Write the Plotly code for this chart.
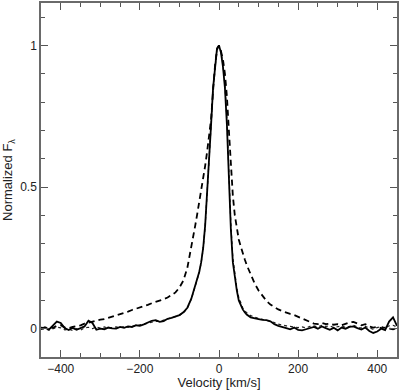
import plotly.graph_objects as go

velocity = [-450, -440, -430, -420, -410, -400, -390, -380, -370, -360,
            -350, -340, -330, -320, -310, -300, -290, -280, -270, -260,
            -250, -240, -230, -220, -210, -200, -190, -180, -170, -160,
            -150, -140, -130, -120, -110, -100, -90, -80, -70,
            -65, -60, -55, -50, -45, -40, -35, -30, -25, -20, -15, -10, -5,
            0, 5, 10, 15, 20, 25, 30, 35, 40, 45, 50, 55, 60, 65,
            70, 80, 90, 100, 110, 120, 130, 140, 150, 160,
            170, 180, 190, 200, 210, 220, 230, 240, 250, 260,
            270, 280, 290, 300, 310, 320, 330, 340, 350, 360,
            370, 380, 390, 400, 410, 420, 430, 440, 450]

solid = [0.000, 0.005, -0.003, 0.010, 0.025, 0.020, 0.002, -0.005, 0.003, -0.004,
         0.002, 0.008, 0.028, 0.020, -0.004, 0.000, -0.002, 0.004, 0.001, 0.000,
         0.006, 0.003, 0.008, 0.006, 0.012, 0.010, 0.015, 0.022, 0.028, 0.030,
         0.024, 0.027, 0.035, 0.038, 0.042, 0.048, 0.058, 0.074, 0.106,
         0.130, 0.150, 0.174, 0.200, 0.235, 0.285, 0.365, 0.470, 0.590, 0.720, 0.850, 0.935, 0.990,
         1.000, 0.975, 0.925, 0.850, 0.720, 0.520, 0.350, 0.235, 0.180, 0.135, 0.100, 0.080, 0.068, 0.058,
         0.050, 0.040, 0.036, 0.034, 0.031, 0.030, 0.026, 0.016, 0.010, 0.005,
         0.002, -0.002, 0.004, -0.004, -0.006, -0.002, 0.003, 0.006, 0.000, 0.008,
         0.002, -0.004, 0.003, -0.006, 0.004, 0.000, 0.006, 0.008, 0.002, -0.003,
         0.004, -0.008, -0.015, -0.010, 0.000, -0.005, 0.025, 0.040, 0.010]

dotted = [-0.003, 0.000, -0.005, 0.000, 0.005, 0.003, -0.004, -0.002, -0.006, 0.000,
          -0.005, 0.003, 0.005, 0.000, 0.006, 0.002, 0.006, 0.002, 0.004, 0.006,
          0.003, 0.008, 0.005, 0.010, 0.009, 0.014, 0.016, 0.020, 0.024, 0.026,
          0.026, 0.030, 0.034, 0.037, 0.042, 0.047, 0.056, 0.072, 0.104,
          0.128, 0.148, 0.172, 0.198, 0.233, 0.283, 0.362, 0.468, 0.588, 0.718, 0.848, 0.935, 0.990,
          1.000, 0.980, 0.930, 0.860, 0.740, 0.550, 0.370, 0.250, 0.190, 0.145, 0.110, 0.088, 0.074, 0.064,
          0.056, 0.046, 0.040, 0.036, 0.033, 0.030, 0.027, 0.022, 0.016, 0.012,
          0.010, 0.008, 0.006, 0.004, 0.006, 0.003, 0.008, 0.010, 0.006, 0.012,
          0.008, 0.010, 0.004, 0.006, 0.010, 0.004, 0.008, 0.012, 0.006, 0.002,
          0.008, 0.004, -0.002, 0.004, 0.008, 0.002, 0.010, 0.012, 0.006]

dashed = [0.004, 0.002, 0.006, 0.003, 0.010, 0.012, 0.004, 0.002, 0.006, 0.008,
          0.012, 0.018, 0.022, 0.026, 0.028, 0.032, 0.034, 0.038, 0.042, 0.048,
          0.052, 0.056, 0.060, 0.066, 0.070, 0.076, 0.080, 0.084, 0.090, 0.094,
          0.098, 0.104, 0.110, 0.118, 0.128, 0.145, 0.170, 0.215, 0.285,
          0.325, 0.365, 0.405, 0.445, 0.485, 0.530, 0.575, 0.625, 0.680, 0.740, 0.840, 0.930, 0.985,
          1.000, 0.980, 0.950, 0.900, 0.820, 0.700, 0.580, 0.470, 0.400, 0.350, 0.315, 0.290, 0.265, 0.245,
          0.225, 0.190, 0.160, 0.135, 0.115, 0.098, 0.085, 0.075, 0.068, 0.062,
          0.056, 0.052, 0.048, 0.042, 0.036, 0.030, 0.024, 0.018, 0.016, 0.020,
          0.016, 0.018, 0.014, 0.016, 0.012, 0.018, 0.022, 0.024, 0.018, 0.012,
          0.016, 0.008, 0.004, 0.006, 0.002, 0.004, 0.000, -0.002, 0.002]

x_tickvals = [-400, -200, 0, 200, 400]
x_ticktext = ["\u2212400", "\u2212200", "0", "200", "400"]
y_tickvals = [0, 0.5, 1]
y_ticktext = ["0", "0.5", "1"]

fig = go.Figure()
fig.add_trace(go.Scatter(x=velocity, y=dotted, mode="lines",
                         line=dict(color="#222", width=1.2, dash="dot"), showlegend=False))
fig.add_trace(go.Scatter(x=velocity, y=dashed, mode="lines",
                         line=dict(color="black", width=1.8, dash="6px,4px"), showlegend=False))
fig.add_trace(go.Scatter(x=velocity, y=solid, mode="lines",
                         line=dict(color="black", width=1.8), showlegend=False))

axis_common = dict(showline=True, linecolor="#6a6a6a", linewidth=1.5, mirror="allticks",
                   ticks="inside", ticklen=7, tickcolor="#555", tickwidth=1,
                   showgrid=False, zeroline=False,
                   tickfont=dict(family="Liberation Sans, Arial", size=12, color="#222"))

fig.update_xaxes(range=[-450, 450], tickvals=x_tickvals, ticktext=x_ticktext,
                 minor=dict(ticks="inside", ticklen=4, dtick=50, tick0=0, tickcolor="#555"),
                 title=dict(text="Velocity [km/s]", standoff=4,
                            font=dict(family="Liberation Sans, Arial", size=13, color="#222")),
                 **axis_common)
fig.update_yaxes(range=[-0.1, 1.15], tickvals=y_tickvals, ticktext=y_ticktext,
                 minor=dict(ticks="inside", ticklen=4, dtick=0.1, tick0=0, tickcolor="#555"),
                 title=dict(text="Normalized F<sub>\u03bb</sub>", standoff=6,
                            font=dict(family="Liberation Sans, Arial", size=13, color="#222")),
                 **axis_common)

fig.update_layout(width=400, height=390, margin=dict(l=41, r=1, t=1, b=32),
                  plot_bgcolor="white", paper_bgcolor="white")

fig.write_html("out.html", config={"displayModeBar": False},
               post_script="document.body.style.margin='0';document.body.style.padding='0';")
